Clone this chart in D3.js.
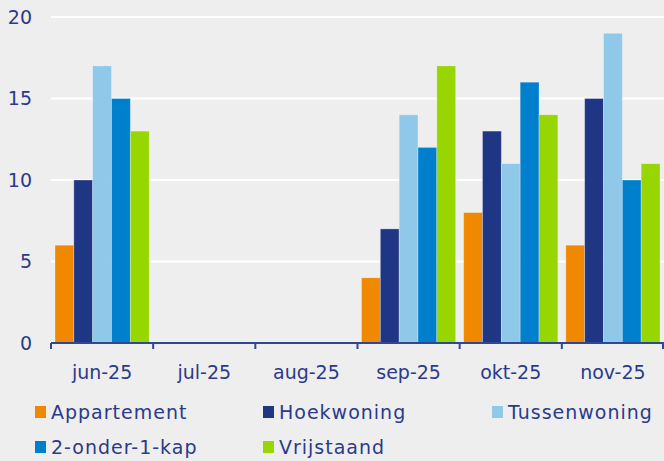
<!DOCTYPE html>
<html>
<head>
<meta charset="utf-8">
<script src="https://cdn.jsdelivr.net/npm/d3@7"></script>
<style>
  html, body { margin: 0; padding: 0; background: #eeeeee; }
  svg { display: block; font-family: 'DejaVu Sans', sans-serif; }
</style>
</head>
<body>
<svg></svg>
<script>
const months = ['jun-25', 'jul-25', 'aug-25', 'sep-25', 'okt-25', 'nov-25'];
const seriesNames = ['Appartement', 'Hoekwoning', 'Tussenwoning', '2-onder-1-kap', 'Vrijstaand'];
const appartement = [6, null, null, 4, 8, 6];
const hoekwoning = [10, null, null, 7, 13, 15];
const tussenwoning = [17, null, null, 14, 11, 19];
const tweeOnderEenKap = [15, null, null, 12, 16, 10];
const vrijstaand = [13, null, null, 17, 14, 11];
const yTicks = [0, 5, 10, 15, 20];
const colors = ['#f08900', '#1f3684', '#8fc8e9', '#0080cc', '#97d600'];

const allSeries = [appartement, hoekwoning, tussenwoning, tweeOnderEenKap, vrijstaand];

const width = 664, height = 461;
const margin = { top: 17, right: 0, bottom: 118, left: 51 };
const textColor = '#2b3a8a';

const svg = d3.select('svg')
  .attr('width', width)
  .attr('height', height);

const x = d3.scaleBand()
  .domain(months)
  .range([margin.left, width - margin.right]);

const inner = d3.scaleBand()
  .domain(d3.range(seriesNames.length))
  .range([4, x.bandwidth() - 4]);

const y = d3.scaleLinear()
  .domain([0, 20])
  .range([height - margin.bottom, margin.top]);

// gridlines
svg.append('g')
  .selectAll('line')
  .data(yTicks.filter(d => d > 0))
  .join('line')
    .attr('x1', margin.left)
    .attr('x2', width - margin.right)
    .attr('y1', d => y(d))
    .attr('y2', d => y(d))
    .attr('stroke', '#ffffff')
    .attr('stroke-width', 2);

// y labels
svg.append('g')
  .selectAll('text')
  .data(yTicks)
  .join('text')
    .attr('x', 32)
    .attr('y', d => y(d))
    .attr('dy', '0.35em')
    .attr('text-anchor', 'end')
    .attr('fill', textColor)
    .attr('font-size', 19)
    .text(d => d);

// bars
const groups = svg.append('g')
  .selectAll('g')
  .data(seriesNames)
  .join('g')
    .attr('fill', (d, i) => colors[i]);

groups.selectAll('rect')
  .data((d, i) => allSeries[i].map((v, j) => ({ v, m: months[j], s: i })).filter(e => e.v != null))
  .join('rect')
    .attr('x', d => x(d.m) + inner(d.s))
    .attr('width', inner.bandwidth())
    .attr('y', d => y(d.v))
    .attr('height', d => y(0) - y(d.v))
    .attr('stroke', 'rgba(255,255,255,0.35)')
    .attr('stroke-width', 0.8);

// x axis
const axisG = svg.append('g')
  .attr('transform', `translate(0,${y(0)})`);
axisG.append('line')
  .attr('x1', margin.left).attr('x2', width)
  .attr('stroke', '#2f4796').attr('stroke-width', 2);
axisG.selectAll('.boundary')
  .data(months.concat(['end']))
  .join('line')
    .attr('class', 'boundary')
    .attr('x1', (d, i) => i < months.length ? x(d) : x.range()[1] - 1)
    .attr('x2', (d, i) => i < months.length ? x(d) : x.range()[1] - 1)
    .attr('y1', 0).attr('y2', 6)
    .attr('stroke', '#2f4796').attr('stroke-width', 2);

svg.append('g')
  .selectAll('text')
  .data(months)
  .join('text')
    .attr('x', d => x(d) + x.bandwidth() / 2)
    .attr('y', 379)
    .attr('text-anchor', 'middle')
    .attr('fill', textColor)
    .attr('font-size', 19)
    .text(d => d);

// legend
const legendPos = [
  { x: 35, y: 412 }, { x: 263, y: 412 }, { x: 492, y: 412 },
  { x: 35, y: 447 }, { x: 263, y: 447 }
];
const legend = svg.append('g')
  .selectAll('g')
  .data(seriesNames)
  .join('g')
    .attr('transform', (d, i) => `translate(${legendPos[i].x},${legendPos[i].y})`);

legend.append('rect')
  .attr('x', 0).attr('y', -6)
  .attr('width', 11).attr('height', 12)
  .attr('fill', (d, i) => colors[i]);

legend.append('text')
  .attr('x', 16)
  .attr('dy', '0.35em')
  .attr('fill', textColor)
  .attr('font-size', 19)
  .attr('letter-spacing', 1)
  .text(d => d);
</script>
</body>
</html>
